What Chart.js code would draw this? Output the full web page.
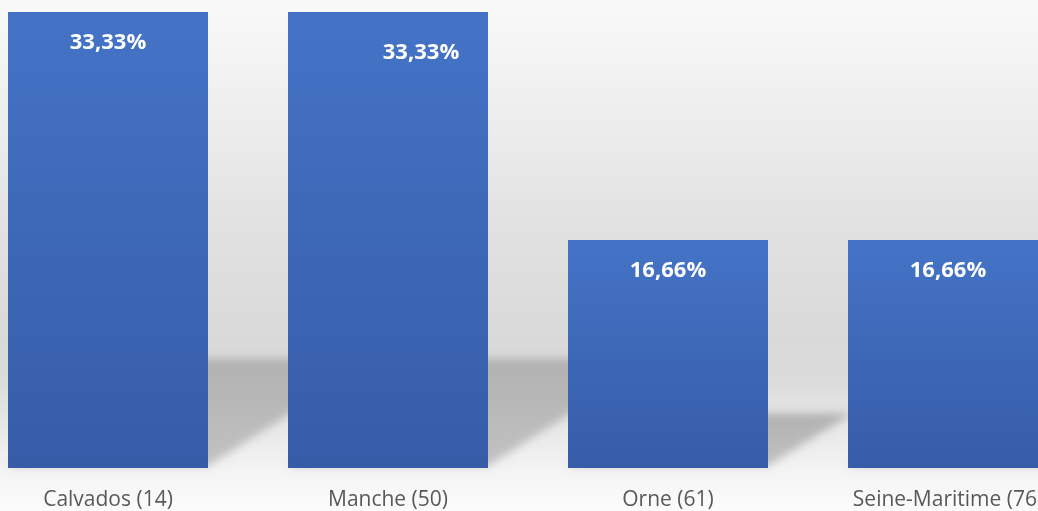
<!DOCTYPE html>
<html>
<head>
<meta charset="utf-8">
<script src="https://cdn.jsdelivr.net/npm/chart.js@4/dist/chart.umd.min.js"></script>
<style>
    html, body {
        margin: 0;
        padding: 0;
        width: 1038px;
        height: 511px;
        overflow: hidden;
        background: linear-gradient(to bottom, #f9f9f9 0px, #eeeeee 110px, #e1e1e1 230px, #d9d9d9 340px, #dbdbdb 380px, #f3f3f3 468px, #fcfcfc 511px);
    }
    #wrap {
        position: absolute;
        left: -32px;
        top: 0;
        width: 1120px;
        height: 511px;
    }
</style>
</head>
<body>
<div id="wrap"><canvas id="chart"></canvas></div>
<script>
var categories = ['Calvados (14)', 'Manche (50)', 'Orne (61)', 'Seine-Maritime (76)'];
var shares = [33.33, 33.33, 16.66, 16.66];

// the Manche label was moved by hand in the original
var labelDx = [0, 33, 0, 0];
var labelDy = [0, 10, 0, 0];

var fontName = '"Open Sans", "DejaVu Sans", sans-serif';

function barGradient(context) {
    var chart = context.chart;
    var y = chart.scales.y;
    if (!chart.chartArea || !y || context.parsed == undefined) {
        return '#4472c4';
    }
    var top = y.getPixelForValue(context.parsed.y);
    var base = y.getPixelForValue(0);
    var g = chart.ctx.createLinearGradient(0, top, 0, base);
    g.addColorStop(0, '#4473c6');
    g.addColorStop(1, '#365ca8');
    return g;
}

// floor shadows cast to the back right of every bar
var shadowPlugin = {
    id: 'floorShadow',
    beforeDatasetsDraw: function (chart) {
        var ctx = chart.ctx;
        var meta = chart.getDatasetMeta(0);
        ctx.save();
        ctx.filter = 'blur(4px)';
        meta.data.forEach(function (bar) {
            var left = bar.x - bar.width / 2;
            var right = bar.x + bar.width / 2;
            var h = bar.base - bar.y;
            var ys = bar.base - 0.24 * h;
            var dx = (bar.base - ys) / 0.65;
            var g = ctx.createLinearGradient(0, ys, 0, bar.base);
            g.addColorStop(0, '#b1b1b1');
            g.addColorStop(1, '#c2c2c2');
            ctx.fillStyle = g;
            ctx.beginPath();
            ctx.moveTo(left, bar.base - 2);
            ctx.lineTo(right, bar.base - 2);
            ctx.lineTo(right + dx, ys);
            ctx.lineTo(left + dx, ys);
            ctx.closePath();
            ctx.fill();
        });
        ctx.restore();
    }
};

var valueLabels = {
    id: 'valueLabels',
    afterDatasetsDraw: function (chart) {
        var ctx = chart.ctx;
        var meta = chart.getDatasetMeta(0);
        ctx.save();
        ctx.fillStyle = '#ffffff';
        ctx.font = 'bold 22px ' + fontName;
        ctx.textAlign = 'center';
        ctx.textBaseline = 'middle';
        meta.data.forEach(function (bar, i) {
            var text = shares[i].toFixed(2).replace('.', ',') + '%';
            ctx.fillText(text, bar.x + labelDx[i], bar.y + 31 + labelDy[i]);
        });
        ctx.restore();
    }
};

new Chart(document.getElementById('chart'), {
    type: 'bar',
    data: {
        labels: categories,
        datasets: [{
            data: shares,
            backgroundColor: barGradient,
            borderWidth: 0,
            categoryPercentage: 1,
            barPercentage: 200 / 280
        }]
    },
    options: {
        responsive: true,
        maintainAspectRatio: false,
        animation: false,
        layout: {
            padding: { top: 12, bottom: 1, left: 0, right: 0 }
        },
        plugins: {
            legend: { display: false },
            tooltip: { enabled: false }
        },
        scales: {
            x: {
                grid: { display: false },
                border: { display: false },
                ticks: {
                    color: '#595959',
                    font: { family: fontName, size: 21 },
                    padding: 11,
                    maxRotation: 0,
                    autoSkip: false
                },
                afterFit: function (scale) {
                    scale.height = 42;
                }
            },
            y: {
                display: false,
                min: 0,
                max: 33.33
            }
        }
    },
    plugins: [shadowPlugin, valueLabels]
});
</script>
</body>
</html>
